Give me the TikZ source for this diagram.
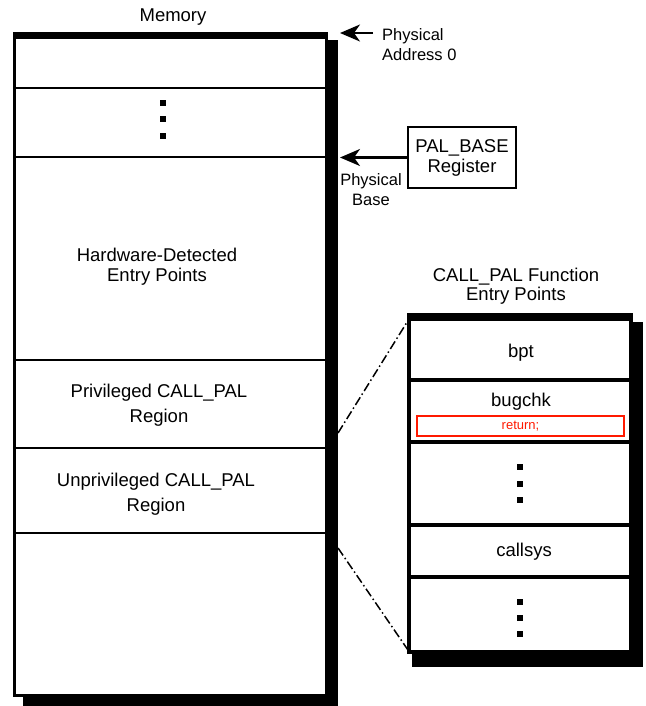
\documentclass[tikz,border=0pt]{standalone}
\usepackage{fontspec}
\setmainfont{Liberation Sans}
\usetikzlibrary{positioning,arrows.meta,calc,backgrounds}

\begin{document}
\begin{tikzpicture}[x=1pt, y=-1pt,
    memrow/.style={rectangle, draw, line width=1.8pt, fill=white, minimum width=312, inner sep=0pt, outer sep=0pt},
    fnrow/.style={rectangle, draw, line width=4pt, fill=white, minimum width=222, inner sep=0pt, outer sep=0pt},
    txt/.style={align=center, inner sep=0pt, font=\fontsize{18.5}{20}\selectfont},
    rowtxt/.style={align=center, inner sep=0pt, font=\fontsize{18.5}{25}\selectfont},
    lbl/.style={inner sep=0pt, font=\fontsize{16.5}{20}\selectfont},
    arrow/.style={-{Stealth[length=20pt, width=17pt, inset=6pt]}, line width=2.5pt},
    zoomline/.style={line width=1.5pt, dash pattern=on 9pt off 3pt on 1.5pt off 3pt}
]
\useasboundingbox (0,0) rectangle (645,706);

% Memory column
\node[txt] (memtitle) at (173,17) {Memory};
\node[memrow, minimum height=50, anchor=north] (r0) at (170.5,38) {};
\node[memrow, minimum height=69, below=0pt of r0] (r1) {};
\node[memrow, minimum height=203, below=0pt of r1] (hw) {};
\node[memrow, minimum height=88, below=0pt of hw] (priv) {};
\node[memrow, minimum height=85, below=0pt of priv] (unpriv) {};
\node[memrow, minimum height=162, below=0pt of unpriv] (r5) {};
\draw[line width=3pt] (r0.north west) rectangle (r5.south east);
\fill ($(r0.north west)+(-1.5,-6)$) rectangle ($(r0.north east)+(1.5,1)$);
\begin{scope}[on background layer]
  \fill ($(r0.north west)+(8.5,2.5)$) rectangle ($(r5.south east)+(11,11)$);
\end{scope}

\foreach \dy in {103,119.5,136}
  \fill (163,\dy) ++(-3,-3) rectangle ++(6,6);

\node[rowtxt] (hwtxt) at (157,267) {Hardware-Detected\\[-5pt]Entry Points};
\node[rowtxt] (privtxt) at (159,405.5) {Privileged CALL\_PAL\\Region};
\node[rowtxt] (unprivtxt) at (156,494.5) {Unprivileged CALL\_PAL\\Region};

% Address labels
\node[lbl, anchor=west, align=left] (physaddr) at (382,45) {Physical\\Address 0};
\coordinate (tail0) at (373,33);
\coordinate (addr0) at (340,33);
\draw[arrow] (tail0) -- (addr0);

\node[txt, draw, line width=2.5pt, minimum width=108, minimum height=61] (palbase) at (462,157.5) {PAL\_BASE\\Register};
\coordinate (physbase) at (340,157.5);
\draw[arrow] (palbase.west) -- (physbase);
\node[lbl, align=center] (pbaselbl) at (371,190) {Physical\\Base};

% CALL_PAL entry points
\node[txt] (fntitle) at (516,286.5) {CALL\_PAL Function\\[-1pt]Entry Points};
\node[fnrow, minimum height=61, anchor=north] (bpt) at (520,319) {};
\node[fnrow, minimum height=61.5, below=0pt of bpt] (bug) {};
\node[fnrow, minimum height=83.5, below=0pt of bug] (more) {};
\node[fnrow, minimum height=51.5, below=0pt of more] (callsys) {};
\node[fnrow, minimum height=75, below=0pt of callsys] (rest) {};
\draw[line width=4pt] (bpt.north west) rectangle (rest.south east);
\fill ($(bpt.north west)+(-2,-6)$) rectangle ($(bpt.north east)+(2,1)$);
\begin{scope}[on background layer]
  \fill ($(bpt.north west)+(3,3)$) rectangle ($(rest.south east)+(12,15.5)$);
\end{scope}

\node[txt] (bpttxt) at (521,353) {bpt};
\node[txt] (bugtxt) at (521,402) {bugchk};
\node[draw=red!80!orange, line width=2.5pt, minimum width=207, minimum height=20, inner sep=0pt,
      text=red!80!orange, font=\fontsize{13}{14}\selectfont] (ret) at (520.5,426) {return;};
\node[txt] (calltxt) at (524,552) {callsys};

\foreach \dy in {467,483.5,500,602,618,634}
  \fill (520,\dy) ++(-3,-3) rectangle ++(6,6);

% Zoom lines
\coordinate (zoomtop) at (338,433);
\coordinate (zoombot) at (338,548);
\draw[zoomline] (zoomtop) -- (bpt.north west);
\draw[zoomline] (zoombot) -- (rest.south west);

\end{tikzpicture}
\end{document}
